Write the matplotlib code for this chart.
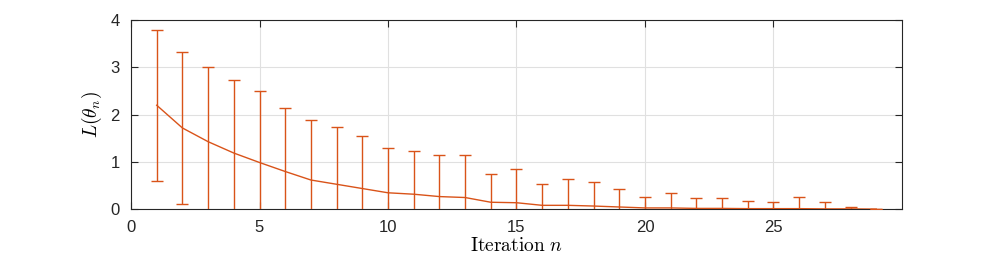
import matplotlib
matplotlib.use("Agg")
import matplotlib.pyplot as plt
import numpy as np

# iteration index and mean loss with upper error bar end
iterations = list(range(1, 30))
loss_mean = [2.20, 1.72, 1.43, 1.19, 0.99, 0.80, 0.62, 0.53, 0.44, 0.35,
             0.32, 0.27, 0.25, 0.15, 0.14, 0.085, 0.085, 0.07, 0.05, 0.03,
             0.03, 0.02, 0.02, 0.015, 0.015, 0.015, 0.01, 0.01, 0.005]
loss_upper = [3.80, 3.33, 3.01, 2.73, 2.51, 2.15, 1.88, 1.73, 1.54, 1.30,
              1.24, 1.14, 1.15, 0.75, 0.85, 0.53, 0.65, 0.58, 0.44, 0.27,
              0.34, 0.23, 0.23, 0.18, 0.155, 0.26, 0.155, 0.06, 0.005]

COLOR = "#D95319"

plt.rcParams["mathtext.fontset"] = "cm"
plt.rcParams["font.family"] = ["Liberation Sans", "DejaVu Sans"]

mean = np.array(loss_mean)
err = np.array(loss_upper) - mean

fig = plt.figure(figsize=(9.97, 2.64), dpi=100)
ax = fig.add_axes([0.1314, 0.207, 0.7733, 0.717])
ax.errorbar(iterations, mean, yerr=err, color=COLOR, lw=1.0,
            elinewidth=1.0, capsize=4.5, capthick=1.0, zorder=3)
ax.set_xlim(0, 30)
ax.set_ylim(0, 4)
ax.set_xticks([0, 5, 10, 15, 20, 25])
ax.set_yticks([0, 1, 2, 3, 4])
ax.grid(True, color="#e0e0e0", lw=0.8)
ax.set_axisbelow(True)
ax.tick_params(direction="in", top=True, right=True, length=5,
               width=0.8, colors="#262626", labelsize=12, pad=8)
for s in ax.spines.values():
    s.set_color("#262626")
    s.set_linewidth(0.8)
ax.set_xlabel(r"$\mathrm{Iteration}\ n$", fontsize=14, labelpad=1)
ax.set_ylabel(r"$L(\theta_n)$", fontsize=14, labelpad=5)

fig.savefig("out.png", dpi=100)
